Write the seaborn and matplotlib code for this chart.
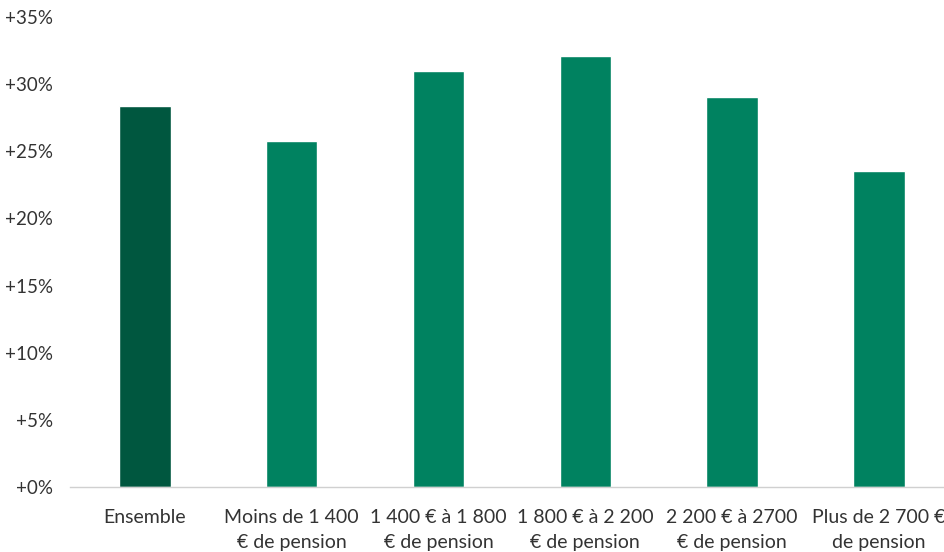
import matplotlib
matplotlib.use("Agg")
import matplotlib.pyplot as plt
import seaborn as sns
import pandas as pd
from matplotlib.ticker import FuncFormatter, MultipleLocator

categories = [
    "Ensemble",
    "Moins de 1 400\n€ de pension",
    "1 400 € à 1 800\n€ de pension",
    "1 800 € à 2 200\n€ de pension",
    "2 200 € à 2700\n€ de pension",
    "Plus de 2 700 €\nde pension",
]
values = [28.4, 25.75, 30.95, 32.1, 29.05, 23.55]
colors = ["#00573F", "#008260", "#008260", "#008260", "#008260", "#008260"]

sns.set_theme(style="white")
plt.rcParams["font.family"] = ["Lato", "DejaVu Sans"]

df = pd.DataFrame({"cat": categories, "val": values})

fig = plt.figure(figsize=(9.45, 5.52), dpi=100)
ax = fig.add_axes([0.074, 0.118, 0.926, 0.851])

sns.barplot(data=df, x="cat", y="val", hue="cat", palette=colors,
            width=0.35, legend=False, ax=ax, saturation=1)

ax.set_ylim(0, 35)
ax.set_xlim(-0.51, 5.45)
ax.yaxis.set_major_locator(MultipleLocator(5))
ax.yaxis.set_major_formatter(FuncFormatter(lambda v, p: f"+{v:.0f}%"))
ax.set_xlabel("")
ax.set_ylabel("")
for s in ["top", "right", "left"]:
    ax.spines[s].set_visible(False)
ax.spines["bottom"].set_color("#d0d0d0")
ax.spines["bottom"].set_linewidth(1.0)
ax.tick_params(axis="y", length=0, pad=12, labelsize=13.5, labelcolor="#333333")
ax.tick_params(axis="x", length=0, pad=16, labelsize=14, labelcolor="#333333")
for lab in ax.get_xticklabels():
    lab.set_linespacing(1.6)

fig.savefig("out.png", dpi=100)
